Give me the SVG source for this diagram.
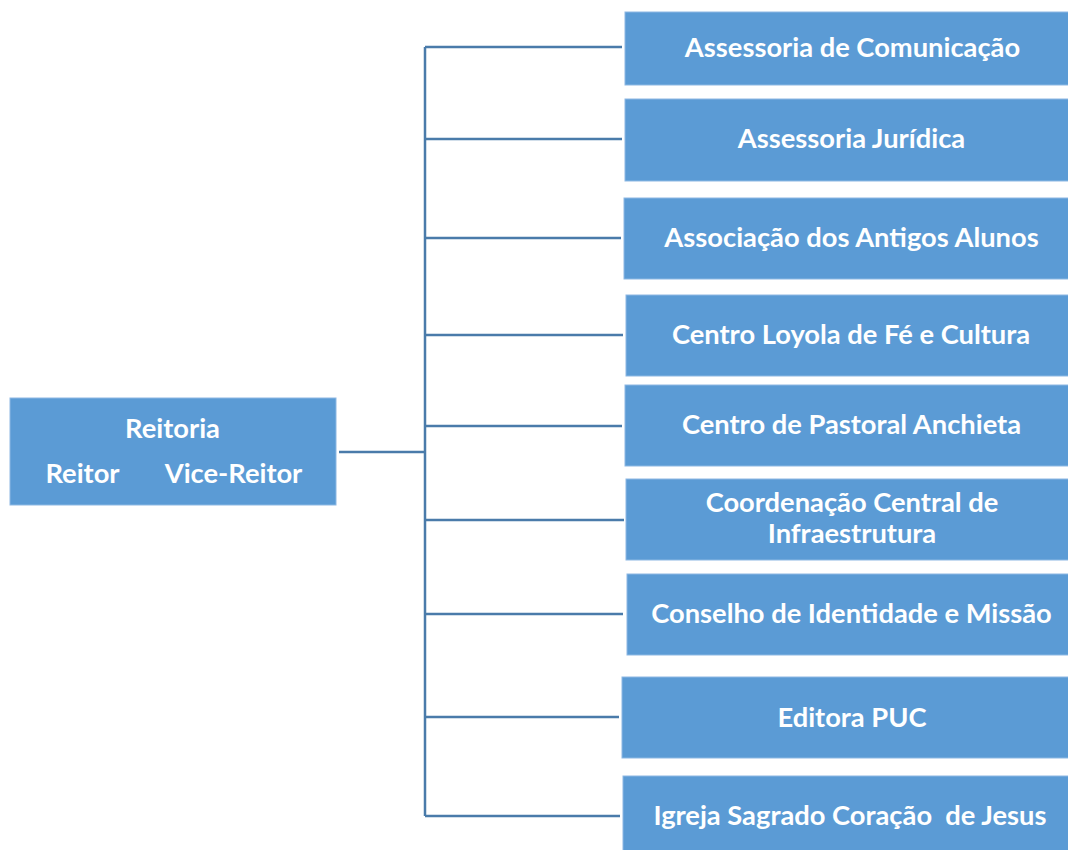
<svg xmlns="http://www.w3.org/2000/svg" width="1068" height="850" viewBox="0 0 1068 850">
<style>
.box{fill:#5B9BD5;stroke:#8DB8E3;stroke-width:1}
.t{fill:#FFFFFF;font-family:Lato,"Open Sans","Liberation Sans",sans-serif;font-weight:bold;font-size:27.3px;text-anchor:middle;white-space:pre}
.c{fill:none;stroke:#4A7BAA;stroke-width:2.5}
</style>
<rect width="1068" height="850" fill="#FFFFFF"/>
<g id="connectors">
<path class="c" d="M339 452 H425"/>
<path class="c" d="M425 47 V816"/>
<path class="c" d="M425 47 H622"/>
<path class="c" d="M425 139 H622"/>
<path class="c" d="M425 238 H621"/>
<path class="c" d="M425 335 H623"/>
<path class="c" d="M425 426 H622"/>
<path class="c" d="M425 520 H624"/>
<path class="c" d="M425 614 H623"/>
<path class="c" d="M425 717 H619"/>
<path class="c" d="M425 816 H620"/>
</g>
<g id="reitoria">
<rect class="box" x="10" y="398" width="326" height="107"/>
<text class="t" x="172.5" y="438">Reitoria</text>
<text class="t" x="82.5" y="483">Reitor</text>
<text class="t" x="233.5" y="483">Vice-Reitor</text>
</g>
<g id="n1">
<rect class="box" x="625" y="12" width="444" height="73"/>
<text class="t" x="852.5" y="57">Assessoria de Comunicação</text>
</g>
<g id="n2">
<rect class="box" x="625" y="99" width="444" height="82"/>
<text class="t" x="851.5" y="148">Assessoria Jurídica</text>
</g>
<g id="n3">
<rect class="box" x="624" y="198" width="445" height="81"/>
<text class="t" x="851.5" y="247">Associação dos Antigos Alunos</text>
</g>
<g id="n4">
<rect class="box" x="626" y="295" width="443" height="81"/>
<text class="t" x="851" y="344">Centro Loyola de Fé e Cultura</text>
</g>
<g id="n5">
<rect class="box" x="625" y="385" width="444" height="81"/>
<text class="t" x="851.5" y="434">Centro de Pastoral Anchieta</text>
</g>
<g id="n6">
<rect class="box" x="626" y="479" width="443" height="81"/>
<text class="t" x="852" y="512">Coordenação Central de</text>
<text class="t" x="852" y="543">Infraestrutura</text>
</g>
<g id="n7">
<rect class="box" x="627" y="574" width="442" height="81"/>
<text class="t" x="851.5" y="623">Conselho de Identidade e Missão</text>
</g>
<g id="n8">
<rect class="box" x="622" y="677" width="447" height="81"/>
<text class="t" x="852" y="727">Editora PUC</text>
</g>
<g id="n9">
<rect class="box" x="623" y="776" width="446" height="84"/>
<text class="t" x="850" y="825">Igreja Sagrado Coração  de Jesus</text>
</g>
</svg>
